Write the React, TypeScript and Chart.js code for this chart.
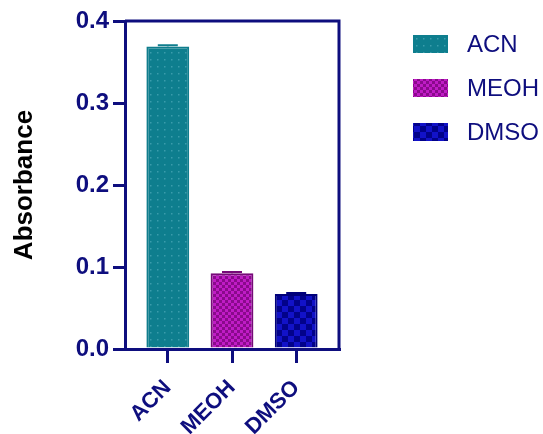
import React, { useEffect, useRef } from "react";
import { Chart, registerables } from "chart.js";

Chart.register(...registerables);

const categories = ["ACN", "MEOH", "DMSO"];
const absorbance = [0.369, 0.0925, 0.0672];
const errors = [0.0013, 0.0013, 0.001];
const yTicks = [0, 0.1, 0.2, 0.3, 0.4];
const yTitle = "Absorbance";

const NAVY = "#0e0e7e";
const FONT = "'Liberation Sans', Arial, Helvetica, sans-serif";

function makePattern(kind: string): CanvasPattern | string {
  const c = document.createElement("canvas");
  const ctx = c.getContext("2d");
  if (!ctx) return "#000";
  if (kind === "dots") {
    c.width = 7; c.height = 7;
    ctx.fillStyle = "#0e7e8e";
    ctx.fillRect(0, 0, 7, 7);
    ctx.fillStyle = "#3a9cab";
    ctx.fillRect(3, 3, 1.5, 1.5);
  } else if (kind === "fine") {
    c.width = 6; c.height = 6;
    ctx.fillStyle = "#8a0a8c";
    ctx.fillRect(0, 0, 6, 6);
    ctx.fillStyle = "#c01cc6";
    ctx.fillRect(0, 0, 3, 3);
    ctx.fillRect(3, 3, 3, 3);
  } else {
    c.width = 12; c.height = 12;
    ctx.fillStyle = "#02028a";
    ctx.fillRect(0, 0, 12, 12);
    ctx.fillStyle = "#1212c8";
    ctx.fillRect(0, 0, 6, 6);
    ctx.fillRect(6, 6, 6, 6);
  }
  return ctx.createPattern(c, "repeat") as CanvasPattern;
}

export default function App() {
  const ref = useRef<HTMLCanvasElement>(null);

  useEffect(() => {
    if (!ref.current) return;
    const fills = [makePattern("dots"), makePattern("fine"), makePattern("coarse")];
    const borders = ["#0f7d8d", "#760a78", "#00007a"];

    const framePlugin = {
      id: "frame",
      afterDatasetsDraw(chart: any) {
        const { ctx, chartArea } = chart;
        const meta = chart.getDatasetMeta(0);
        const ys = chart.scales.y;
        ctx.save();
        meta.data.forEach((bar: any, i: number) => {
          const top = ys.getPixelForValue(absorbance[i] + errors[i]);
          const barTop = ys.getPixelForValue(absorbance[i]);
          ctx.strokeStyle = borders[i];
          ctx.lineWidth = 2;
          ctx.beginPath();
          ctx.moveTo(bar.x, barTop);
          ctx.lineTo(bar.x, top);
          ctx.moveTo(bar.x - 10, top);
          ctx.lineTo(bar.x + 10, top);
          ctx.stroke();
        });
        ctx.strokeStyle = NAVY;
        ctx.lineWidth = 3;
        ctx.beginPath();
        ctx.moveTo(chartArea.left, chartArea.top);
        ctx.lineTo(chartArea.right, chartArea.top);
        ctx.lineTo(chartArea.right, chartArea.bottom);
        ctx.stroke();
        ctx.restore();
      },
      afterDraw(chart: any) {
        const { ctx } = chart;
        ctx.save();
        ctx.font = `24px ${FONT}`;
        ctx.textBaseline = "middle";
        ctx.textAlign = "left";
        categories.forEach((name, i) => {
          const cy = 44 + i * 44;
          ctx.fillStyle = fills[i];
          ctx.fillRect(413, cy - 9, 35, 18);
          ctx.fillStyle = NAVY;
          ctx.fillText(name, 467, cy + 1);
        });
        ctx.restore();
      },
    };

    const chart = new Chart(ref.current, {
      type: "bar",
      data: {
        datasets: [
          {
            data: absorbance.map((v, i) => ({ x: i, y: v })),
            backgroundColor: fills as any,
            borderColor: borders,
            borderWidth: 2,
            categoryPercentage: 0.667,
            barPercentage: 1,
          },
        ],
      },
      options: {
        animation: false,
        responsive: true,
        maintainAspectRatio: false,
        layout: { padding: { top: 21, right: 204, bottom: 0, left: 0 } },
        plugins: { legend: { display: false }, tooltip: { enabled: false } },
        scales: {
          x: {
            type: "linear",
            offset: false,
            min: -2 / 3,
            max: 2 + 2 / 3,
            afterBuildTicks: (scale: any) => {
              scale.ticks = categories.map((_, i) => ({ value: i }));
            },
            afterFit: (scale: any) => {
              scale.height = 85;
            },
            grid: {
              display: true,
              offset: false,
              drawOnChartArea: false,
              tickLength: 14,
              lineWidth: 3,
              color: NAVY,
            },
            border: { display: true, color: NAVY, width: 3 },
            ticks: {
              autoSkip: false,
              minRotation: 45,
              maxRotation: 45,
              padding: 12,
              color: NAVY,
              font: { family: FONT, size: 22, weight: "bold" },
              callback: (v: any) => categories[Math.round(Number(v))] ?? "",
            },
          },
          y: {
            min: 0,
            max: 0.4,
            afterBuildTicks: (scale: any) => {
              scale.ticks = yTicks.map((v) => ({ value: v }));
            },
            afterFit: (scale: any) => {
              scale.width = 125;
            },
            grid: {
              display: true,
              drawOnChartArea: false,
              tickLength: 12,
              lineWidth: 3,
              color: NAVY,
            },
            border: { display: true, color: NAVY, width: 3 },
            ticks: {
              padding: 4,
              color: NAVY,
              font: { family: FONT, size: 24, weight: "bold" },
              callback: (v: any) => Number(v).toFixed(1),
            },
            title: {
              display: true,
              text: yTitle,
              color: "#000",
              padding: { top: 9, bottom: 0 },
              font: { family: FONT, size: 26, weight: "bold" },
            },
          },
        },
      },
      plugins: [framePlugin],
    });
    return () => chart.destroy();
  }, []);

  return (
    <div style={{ position: "absolute", left: 0, top: 0, width: 543, height: 434 }}>
      <canvas ref={ref} />
    </div>
  );
}
